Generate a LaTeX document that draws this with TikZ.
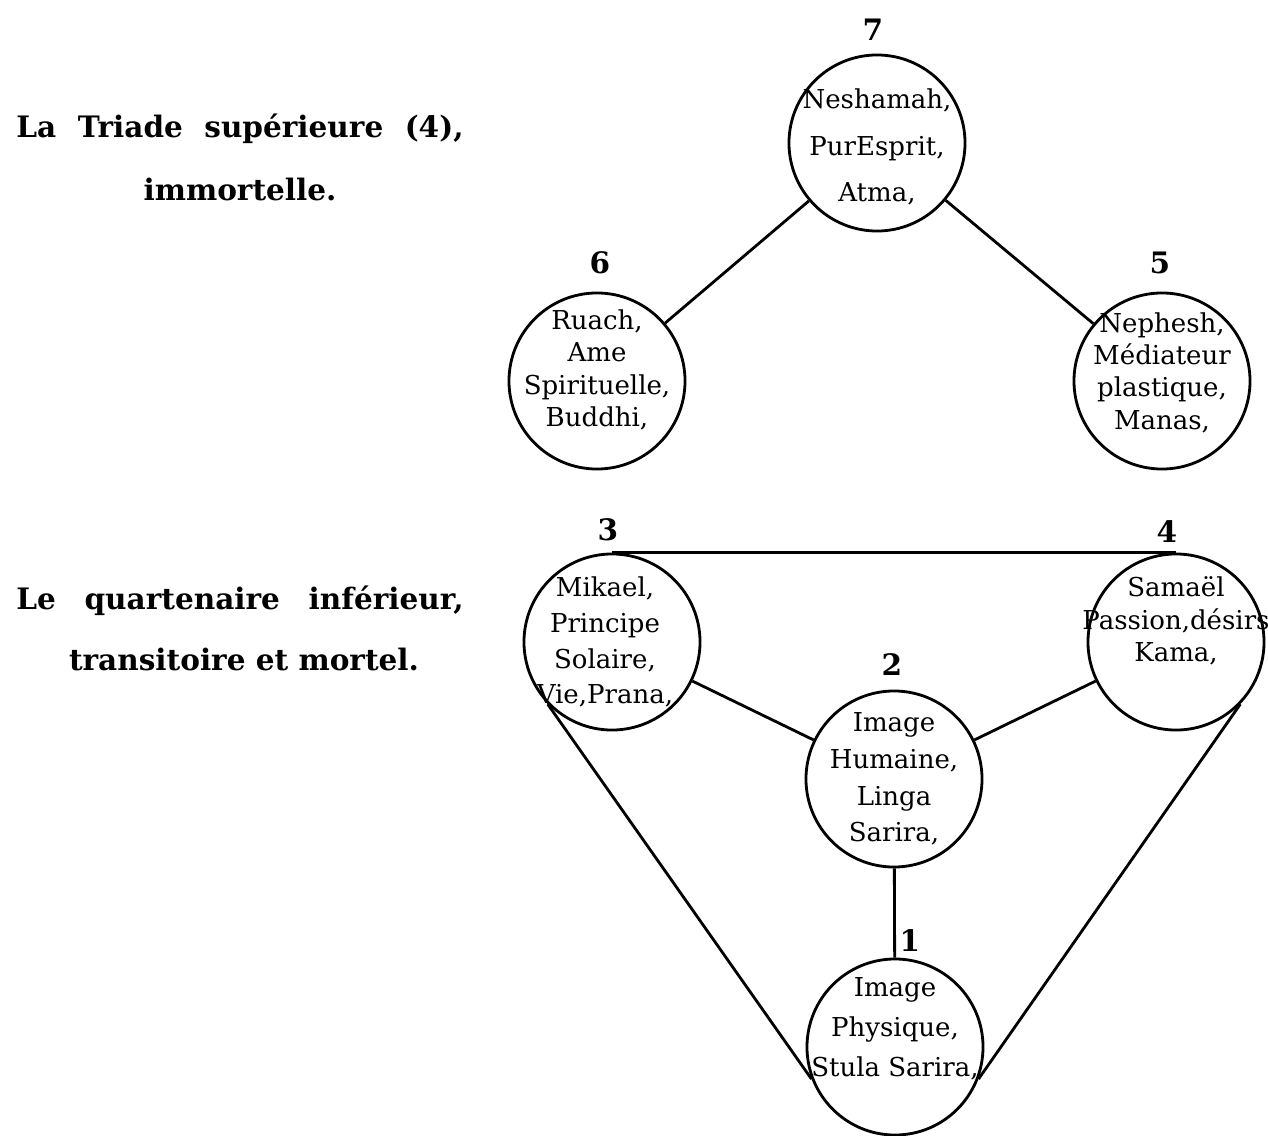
\documentclass[tikz,border=0pt]{standalone}
\usepackage{fontspec}
\newfontfamily\slabfont{DejaVu Serif}
\begin{document}
\begin{tikzpicture}[x=0.025cm,y=-0.025cm,line width=2pt,
  ring/.style={draw,circle,minimum size=4.4cm,inner sep=0pt},
  word/.style={align=center,inner sep=0pt,font=\slabfont\fontsize{18.5}{#1}\selectfont},
  word/.default=23,
  num/.style={inner sep=0pt,font=\slabfont\bfseries\fontsize{21}{24}\selectfont},
  side/.style={inner sep=0pt,anchor=base,font=\slabfont\bfseries\fontsize{21}{24}\selectfont}]
\useasboundingbox (0,0) rectangle (1268,1136);
% la triade
\node[ring] (n7) at (877,143) {};
\node[ring] (n6) at (597,381) {};
\node[ring] (n5) at (1162,381) {};
\node[word=33] (t7) at ([yshift=-3pt]n7.center) {Neshamah,\\PurEsprit,\\Atma,};
\node[word] (t6) at ([yshift=8pt]n6.center) {Ruach,\\Ame\\Spirituelle,\\Buddhi,};
\node[word] (t5) at ([yshift=6pt]n5.center) {Nephesh,\\Médiateur\\plastique,\\Manas,};
\node[num] (l7) at (873,30) {7};
\node[num] (l6) at (600,263) {6};
\node[num] (l5) at (1160,263) {5};
\draw (n7)--(n6);
\draw (n7)--(n5);
% le quartenaire
\node[ring] (n3) at (612,642) {};
\node[ring] (n4) at (1176,642) {};
\node[ring] (n2) at (894,779) {};
\node[ring] (n1) at (895,1047) {};
\node[word=25.5] (t3) at ([xshift=-5pt]n3.center) {Mikael,\\Principe\\Solaire,\\Vie,Prana,};
\node[word] (t4) at ([yshift=15pt]n4.center) {Samaël\\Passion,désirs\\Kama,};
\node[word=26] (t2) at (n2.center) {Image\\Humaine,\\Linga\\Sarira,};
\node[word=28.5] (t1) at ([yshift=13pt]n1.center) {Image\\Physique,\\Stula Sarira,};
\node[num] (l3) at (608,530) {3};
\node[num] (l4) at (1167,532) {4};
\node[num] (l2) at (892,665) {2};
\node[num] (l1) at (910,941) {1};
\draw (n3.north)--(n4.north);
\draw (n3)--(n2);
\draw (n4)--(n2);
\draw (n2)--(n1);
\draw (n3.224)--(n1.201);
\draw (n4.316)--(n1.339);
% textes a gauche
\node[side] (triA) at (240,138) {\makebox[318pt][s]{La Triade supérieure (4),}};
\node[side] (triB) at (240,200) {immortelle.};
\node[side] (quaA) at (240,609) {\makebox[318pt][s]{Le quartenaire inférieur,}};
\node[side] (quaB) at (244,670) {transitoire et mortel.};
\end{tikzpicture}
\end{document}
